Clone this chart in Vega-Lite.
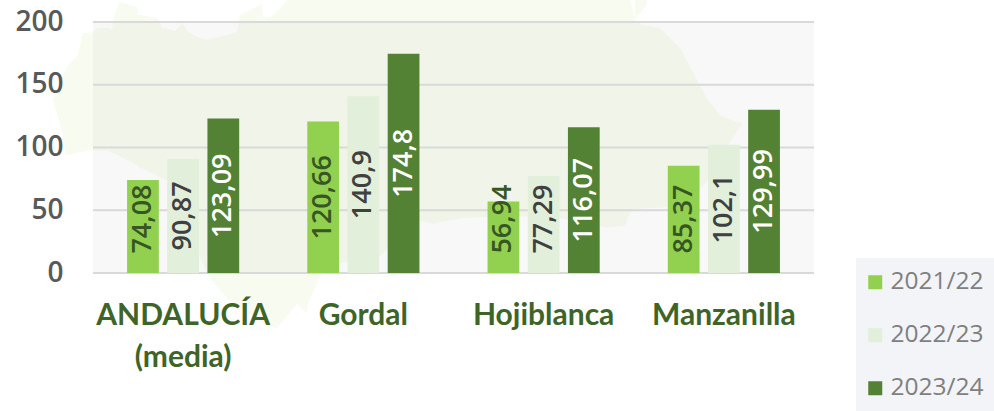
{"$schema":"https://vega.github.io/schema/vega-lite/v6.json","width":721,"height":251,"autosize":{"type":"none"},"padding":{"left":93,"top":22,"right":180,"bottom":138},"background":"#ffffff","config":{"view":{"stroke":null},"font":"Open Sans"},"datasets":{"yields":[{"cat":"ANDALUCÍA (media)","season":"2021/22","v":74.08,"label":"74,08"},{"cat":"ANDALUCÍA (media)","season":"2022/23","v":90.87,"label":"90,87"},{"cat":"ANDALUCÍA (media)","season":"2023/24","v":123.09,"label":"123,09"},{"cat":"Gordal","season":"2021/22","v":120.66,"label":"120,66"},{"cat":"Gordal","season":"2022/23","v":140.9,"label":"140,9"},{"cat":"Gordal","season":"2023/24","v":174.8,"label":"174,8"},{"cat":"Hojiblanca","season":"2021/22","v":56.94,"label":"56,94"},{"cat":"Hojiblanca","season":"2022/23","v":77.29,"label":"77,29"},{"cat":"Hojiblanca","season":"2023/24","v":116.07,"label":"116,07"},{"cat":"Manzanilla","season":"2021/22","v":85.37,"label":"85,37"},{"cat":"Manzanilla","season":"2022/23","v":102.1,"label":"102,1"},{"cat":"Manzanilla","season":"2023/24","v":129.99,"label":"129,99"}],"map":[{"p":"a","m":53,"n":137.6,"s":137.6},{"p":"a","m":62,"n":156,"s":113.6},{"p":"a","m":65,"n":161.6,"s":97.6},{"p":"a","m":67,"n":164,"s":93.6},{"p":"a","m":78,"n":173.6,"s":96},{"p":"a","m":83,"n":191.2,"s":96.8},{"p":"a","m":87,"n":191.2,"s":97.6},{"p":"a","m":93,"n":192,"s":97.6},{"p":"a","m":98,"n":195.2,"s":97.6},{"p":"a","m":107,"n":195.2,"s":97.6},{"p":"a","m":112,"n":194.4,"s":96},{"p":"a","m":115,"n":207.2,"s":95.2},{"p":"a","m":120,"n":216,"s":92.8},{"p":"a","m":137,"n":212,"s":85.6},{"p":"a","m":138,"n":205.6,"s":85.6},{"p":"a","m":140,"n":205.6,"s":84},{"p":"a","m":157,"n":203.2,"s":77.6},{"p":"a","m":162,"n":195.2,"s":75.2},{"p":"a","m":168,"n":194.4,"s":73.6},{"p":"a","m":175,"n":192.8,"s":61.6},{"p":"a","m":182,"n":199.2,"s":49.6},{"p":"a","m":188,"n":192,"s":37.6},{"p":"a","m":197,"n":188,"s":25.6},{"p":"a","m":200,"n":187.2,"s":12},{"p":"a","m":208,"n":185.6,"s":-1.6},{"p":"a","m":210,"n":186.4,"s":-4},{"p":"a","m":227,"n":189.6,"s":-20},{"p":"a","m":237,"n":192,"s":-26.4},{"p":"a","m":240,"n":205.6,"s":-28},{"p":"a","m":260,"n":213.6,"s":-38.4},{"p":"a","m":262,"n":214.4,"s":-39.2},{"p":"a","m":263,"n":204,"s":-40},{"p":"a","m":270,"n":204,"s":-42.4},{"p":"a","m":277,"n":208,"s":-44},{"p":"a","m":285,"n":215.2,"s":-36},{"p":"a","m":288,"n":219.2,"s":-32.8},{"p":"a","m":297,"n":219.2,"s":-24.8},{"p":"a","m":307,"n":219.2,"s":-32},{"p":"a","m":308,"n":219.2,"s":-24.8},{"p":"a","m":320,"n":219.2,"s":-2.4},{"p":"a","m":340,"n":219.2,"s":8},{"p":"a","m":380,"n":219.2,"s":13.6},{"p":"a","m":420,"n":219.2,"s":41.6},{"p":"a","m":433,"n":219.2,"s":39.2},{"p":"a","m":457,"n":219.2,"s":43.2},{"p":"a","m":507,"n":219.2,"s":45.6},{"p":"a","m":557,"n":219.2,"s":44},{"p":"a","m":607,"n":219.2,"s":36},{"p":"a","m":625,"n":219.2,"s":37.6},{"p":"a","m":630,"n":219.2,"s":48},{"p":"a","m":635,"n":201.6,"s":49.6},{"p":"a","m":643,"n":197.6,"s":52},{"p":"a","m":660,"n":195.2,"s":52},{"p":"a","m":680,"n":179.2,"s":53.6},{"p":"a","m":708,"n":137.6,"s":73.6},{"p":"a","m":710,"n":136,"s":77.6},{"p":"a","m":720,"n":125.6,"s":91.2},{"p":"a","m":728,"n":123.2,"s":101.6},{"p":"a","m":742,"n":119.2,"s":119.2},{"p":"b","m":635,"n":219.2,"s":201.6},{"p":"b","m":647,"n":219.2,"s":214.4}],"grid":[{"t":0},{"t":50},{"t":100},{"t":150},{"t":200}]},"resolve":{"scale":{"x":"independent"}},"layer":[{"data":{"name":"map"},"mark":{"type":"area","orient":"vertical","color":"#f8fbef","clip":false,"interpolate":"linear"},"encoding":{"x":{"field":"m","type":"quantitative","scale":{"domain":[93,814],"nice":false,"zero":false},"axis":null},"y":{"field":"n","type":"quantitative","scale":{"domain":[0,200],"nice":false},"axis":{"title":null,"zindex":1,"values":[0,50,100,150,200],"grid":false,"domain":false,"ticks":false,"labelFont":"Open Sans","labelFontWeight":600,"labelFontSize":28,"labelColor":"#595959","labelPadding":30}},"y2":{"field":"s"},"detail":{"field":"p"}}},{"data":{"values":[{"a":1}]},"mark":{"type":"rect","color":"#000000","opacity":0.027},"encoding":{}},{"data":{"name":"grid"},"mark":{"type":"rule","color":"#d9d9d9","strokeWidth":2},"encoding":{"y":{"field":"t","type":"quantitative"}}},{"data":{"name":"yields"},"encoding":{"x":{"field":"cat","type":"nominal","sort":null,"scale":{"paddingInner":0.3333,"paddingOuter":0.1667},"axis":{"title":null,"zindex":1,"labelAngle":0,"domain":false,"ticks":false,"labelFont":"Lato","labelFontWeight":"bold","labelFontSize":30,"labelColor":"#3f6428","labelPadding":27,"labelLineHeight":42,"labelLimit":300,"labelExpr":"datum.label == 'ANDALUCÍA (media)' ? ['ANDALUCÍA','(media)'] : datum.label"}},"xOffset":{"field":"season","type":"nominal","sort":null,"scale":{"paddingInner":0.21,"paddingOuter":0.1}}},"layer":[{"mark":{"type":"bar"},"encoding":{"y":{"field":"v","type":"quantitative"},"color":{"field":"season","type":"nominal","sort":null,"scale":{"domain":["2021/22","2022/23","2023/24"],"range":["#92d050","#e2efda","#548235"]},"legend":{"title":null,"orient":"none","legendX":763,"legendY":236,"fillColor":"#f3f4f7","padding":12,"symbolType":"square","symbolSize":196,"symbolOffset":-5,"labelFont":"Open Sans","labelFontSize":24.5,"labelColor":"#7f7f7f","rowPadding":28,"labelOffset":3,"symbolStrokeWidth":0,"labelLimit":200}}}},{"transform":[{"calculate":"max(datum.v / 2, 43)","as":"labelMid"}],"mark":{"type":"text","angle":270,"align":"center","baseline":"middle","font":"Open Sans","fontWeight":600,"fontSize":27},"encoding":{"y":{"field":"labelMid","type":"quantitative"},"text":{"field":"label","type":"nominal"},"color":{"condition":[{"test":"datum.season === '2021/22'","value":"#375623"},{"test":"datum.season === '2022/23'","value":"#404040"}],"value":"#ffffff"}}}]}]}
